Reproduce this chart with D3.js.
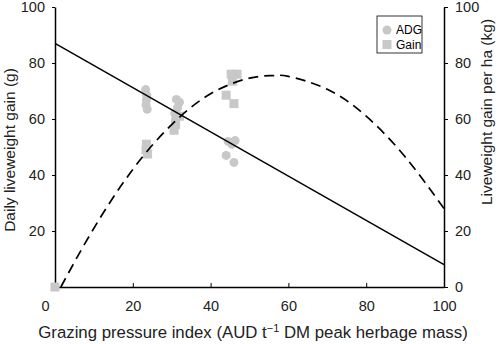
<!DOCTYPE html>
<html>
<head>
<meta charset="utf-8">
<script src="https://cdn.jsdelivr.net/npm/d3@7"></script>
<style>
  body { margin: 0; background: #fff; }
  svg { font-family: "Liberation Sans", Arial, sans-serif; }
</style>
</head>
<body>
<div id="chart"></div>
<script>
// ADG points (left axis, g/day)
const adgX = [23.3, 23.6, 23.5, 23.4, 23.7, 31.2, 32, 31.5, 30.8, 31, 44.5, 46.3, 45.5, 44, 46]
const adgY = [70.5, 68.5, 66.8, 65, 63.5, 67, 66, 64, 62, 60, 52, 52.3, 51, 47, 44.5]
// Gain points (right axis, kg/ha)
const gainX = [0, 23.5, 23.4, 23.8, 31, 30.6, 32, 45.3, 46.8, 45.6, 44, 46]
const gainY = [0, 51, 49, 47.5, 58, 56, 61, 76, 76, 73.5, 68.5, 65.5]
// fitted lines
const adgFitX = [0, 100]
const adgFitY = [87, 8]
const gainFitX = [1.5, 10, 20, 30, 40, 50, 56, 60, 70, 80, 90, 100]
const gainFitY = [0, 21, 42, 58, 69, 74.6, 75.5, 75.2, 70.6, 61, 46.5, 28]
const xTicks = [0, 20, 40, 60, 80, 100]
const leftTicks = [20, 40, 60, 80, 100]
const rightTicks = [0, 20, 40, 60, 80, 100]

const width = 500, height = 344
const margin = {left: 55, right: 56, top: 7, bottom: 57}
const grey = "#c8c8c8"

let svg = d3.select("#chart").append("svg")
  .attr("width", width).attr("height", height)

let x = d3.scaleLinear().domain([0, 100]).range([margin.left, width - margin.right])
let yL = d3.scaleLinear().domain([0, 100]).range([height - margin.bottom, margin.top])
let yR = d3.scaleLinear().domain([0, 100]).range([height - margin.bottom, margin.top])

// axes
let xAxis = svg.append("g")
  .attr("transform", `translate(0,${height - margin.bottom})`)
  .call(d3.axisBottom(x).tickValues(xTicks).tickSizeInner(-4).tickSizeOuter(0).tickPadding(14))
xAxis.selectAll(".tick").filter(d => d === 0).select("line").remove()
xAxis.selectAll(".tick").filter(d => d === 0).select("text").attr("x", -10)

let leftAxis = svg.append("g")
  .attr("transform", `translate(${margin.left},0)`)
  .call(d3.axisLeft(yL).tickValues(leftTicks).tickSize(3).tickSizeOuter(0).tickPadding(7))

let rightAxis = svg.append("g")
  .attr("transform", `translate(${width - margin.right},0)`)
  .call(d3.axisRight(yR).tickValues(rightTicks).tickSize(4).tickSizeOuter(0).tickPadding(7))

svg.selectAll(".domain").attr("stroke", "#000").attr("stroke-width", 1.5)
svg.selectAll(".tick line").attr("stroke", "#000")
svg.selectAll(".tick text").attr("font-size", 14.5).attr("fill", "#222")
  .attr("font-family", "Liberation Sans, Arial, sans-serif")

// scatter
svg.append("g").selectAll("circle")
  .data(adgX.map((d, i) => [d, adgY[i]]))
  .join("circle")
  .attr("cx", d => x(d[0])).attr("cy", d => yL(d[1]))
  .attr("r", 4.5).attr("fill", grey)

svg.append("g").selectAll("rect")
  .data(gainX.map((d, i) => [d, gainY[i]]))
  .join("rect")
  .attr("x", d => x(d[0]) - 4.5).attr("y", d => yR(d[1]) - 4.5)
  .attr("width", 9).attr("height", 9).attr("fill", grey)

// fitted lines
let lineL = d3.line().x(d => x(d[0])).y(d => yL(d[1]))
svg.append("path")
  .datum(adgFitX.map((d, i) => [d, adgFitY[i]]))
  .attr("d", lineL).attr("fill", "none").attr("stroke", "#000").attr("stroke-width", 1.5)

let lineR = d3.line().x(d => x(d[0])).y(d => yR(d[1])).curve(d3.curveNatural)
svg.append("path")
  .datum(gainFitX.map((d, i) => [d, gainFitY[i]]))
  .attr("d", lineR).attr("fill", "none").attr("stroke", "#000").attr("stroke-width", 1.7)
  .attr("stroke-dasharray", "10,6")

// legend
let legend = svg.append("g").attr("transform", "translate(377,16)")
legend.append("rect").attr("width", 45).attr("height", 37)
  .attr("fill", "#fff").attr("stroke", "#000").attr("stroke-width", 0.8)
legend.append("circle").attr("cx", 10).attr("cy", 14).attr("r", 4.5).attr("fill", grey)
legend.append("rect").attr("x", 5.5).attr("y", 24).attr("width", 9).attr("height", 9).attr("fill", grey)
legend.append("text").attr("x", 19).attr("y", 18).attr("font-size", 12).text("ADG")
legend.append("text").attr("x", 19).attr("y", 33).attr("font-size", 12).text("Gain")

// axis titles
svg.append("text")
  .attr("transform", `translate(15,150) rotate(-90)`)
  .attr("text-anchor", "middle").attr("font-size", 15.5).attr("fill", "#222")
  .text("Daily liveweight gain (g)")

svg.append("text")
  .attr("transform", `translate(492,112) rotate(-90)`)
  .attr("text-anchor", "middle").attr("font-size", 15.5).attr("fill", "#222")
  .text("Liveweight gain per ha (kg)")

let xt = svg.append("text")
  .attr("x", 253).attr("y", 338)
  .attr("text-anchor", "middle").attr("font-size", 16.8).attr("fill", "#222")
xt.append("tspan").text("Grazing pressure index (AUD t")
xt.append("tspan").attr("dy", -6).attr("font-size", 11).text("\u22121")
xt.append("tspan").attr("dy", 6).text(" DM peak herbage mass)")
</script>
</body>
</html>
